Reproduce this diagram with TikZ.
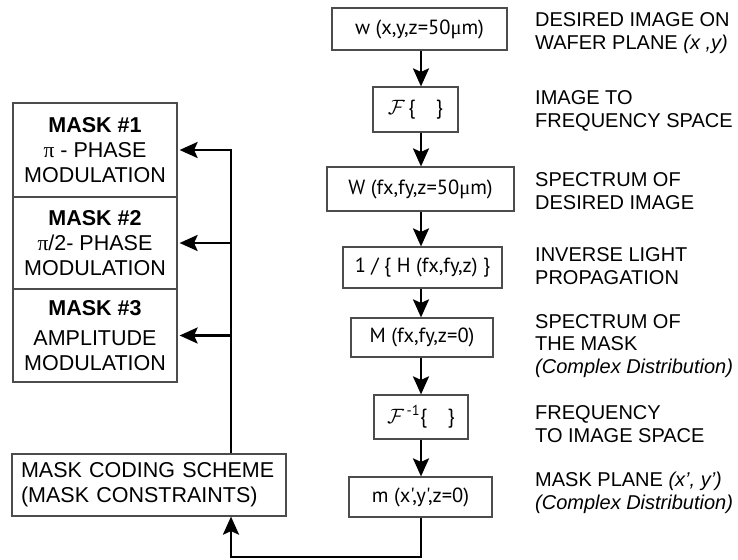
\documentclass[tikz,border=0pt]{standalone}
\usepackage{fontspec}
\setmainfont{Liberation Sans}
\newfontfamily\boxfont{PT Sans}
\newfontfamily\gkfont{Liberation Serif}
\usetikzlibrary{arrows.meta}
\begin{document}
\begin{tikzpicture}[x=1pt,y=-1pt,
  stepbox/.style={draw=black!70, line width=1.2pt, inner sep=0pt, font=\boxfont\fontsize{20.5}{22}\selectfont},
  arr/.style={line width=2.6pt, -{Stealth[length=18pt,width=16pt,inset=3.5pt]}},
  lbl/.style={anchor=west, align=left, inner sep=0pt, font=\fontsize{20}{22.5}\selectfont},
  maskbox/.style={draw=black!70, line width=1.2pt, inner sep=0pt, minimum width=164pt, align=center, font=\fontsize{21.5}{25}\selectfont}]
\useasboundingbox (0,0) rectangle (738,559);

% right column of steps
\node[stepbox, minimum width=175pt, minimum height=42pt] (w) at (419.5,29) {w (x,y,z=50{\gkfont μ}m)};
\node[stepbox, minimum width=85pt, minimum height=45pt] (F) at (415.5,109.5) {$\mathcal{F}$\,\{\quad\}};
\node[stepbox, minimum width=187pt, minimum height=44pt] (W) at (420.5,189) {W (fx,fy,z=50{\gkfont μ}m)};
\node[stepbox, minimum width=159pt, minimum height=41pt] (H) at (422.5,267.5) {1 / \{ H (fx,fy,z) \}};
\node[stepbox, minimum width=142pt, minimum height=39pt] (M) at (422,337.5) {M (fx,fy,z=0)};
\node[stepbox, minimum width=94pt, minimum height=44pt] (Fi) at (421,417) {$\mathcal{F}$\textsuperscript{\,-1}\{\quad\}};
\node[stepbox, minimum width=143pt, minimum height=40pt] (m) at (420.5,497) {m (x',y',z=0)};

% labels
\node[lbl] (l1) at (535,33) {DESIRED IMAGE ON\\WAFER PLANE \textit{(x ,y)}};
\node[lbl] (l2) at (535,111) {IMAGE TO\\FREQUENCY SPACE};
\node[lbl] (l3) at (535,191) {SPECTRUM OF\\DESIRED IMAGE};
\node[lbl] (l4) at (535,266) {INVERSE LIGHT\\PROPAGATION};
\node[lbl] (l5) at (535,346) {SPECTRUM OF\\THE MASK\\\textit{(Complex Distribution)}};
\node[lbl] (l6) at (535,424) {FREQUENCY\\TO IMAGE SPACE};
\node[lbl] (l7) at (535,493) {MASK PLANE \textit{(x', y')}\\\textit{(Complex Distribution)}};

% masks
\node[maskbox, minimum height=94pt] (m1) at (95,150) {\textbf{MASK \#1}\\{\gkfont π} - PHASE\\MODULATION};
\node[maskbox, minimum height=92pt] (m2) at (95,243) {\textbf{MASK \#2}\\{\gkfont π}/2- PHASE\\MODULATION};
\node[maskbox, minimum height=93pt] (m3) at (95,335.5) {\textbf{MASK \#3}\\[5pt]AMPLITUDE\\MODULATION};

% coding scheme
\node[draw=black!70, line width=1.2pt, inner ysep=0pt, inner xsep=9pt, minimum width=274pt, minimum height=62pt, text width=256pt, align=left, font=\fontsize{21.5}{25}\selectfont] (code) at (149,485) {MASK CODING SCHEME\\(MASK CONSTRAINTS)};

% connectors
\coordinate (cx) at (421,0);
\coordinate (jt) at (231,150);
\coordinate (bl) at (231,557);
\draw[arr] (w.south -| cx) -- (F.north -| cx);
\draw[arr] (F.south -| cx) -- (W.north -| cx);
\draw[arr] (W.south -| cx) -- (H.north -| cx);
\draw[arr] (H.south -| cx) -- (M.north -| cx);
\draw[arr] (M.south -| cx) -- (Fi.north -| cx);
\draw[arr] (Fi.south -| cx) -- (m.north -| cx);
\draw[arr] (m.south -| cx) |- (bl) -- (code.south -| bl);
\draw[arr, shorten >=2pt] (code.north -| jt) -- (jt) -- (m1.east);
\draw[arr, shorten >=2pt] (m2.east -| jt) -- (m2.east);
\draw[arr, shorten >=2pt] (m3.east -| jt) -- (m3.east);
\end{tikzpicture}
\end{document}
